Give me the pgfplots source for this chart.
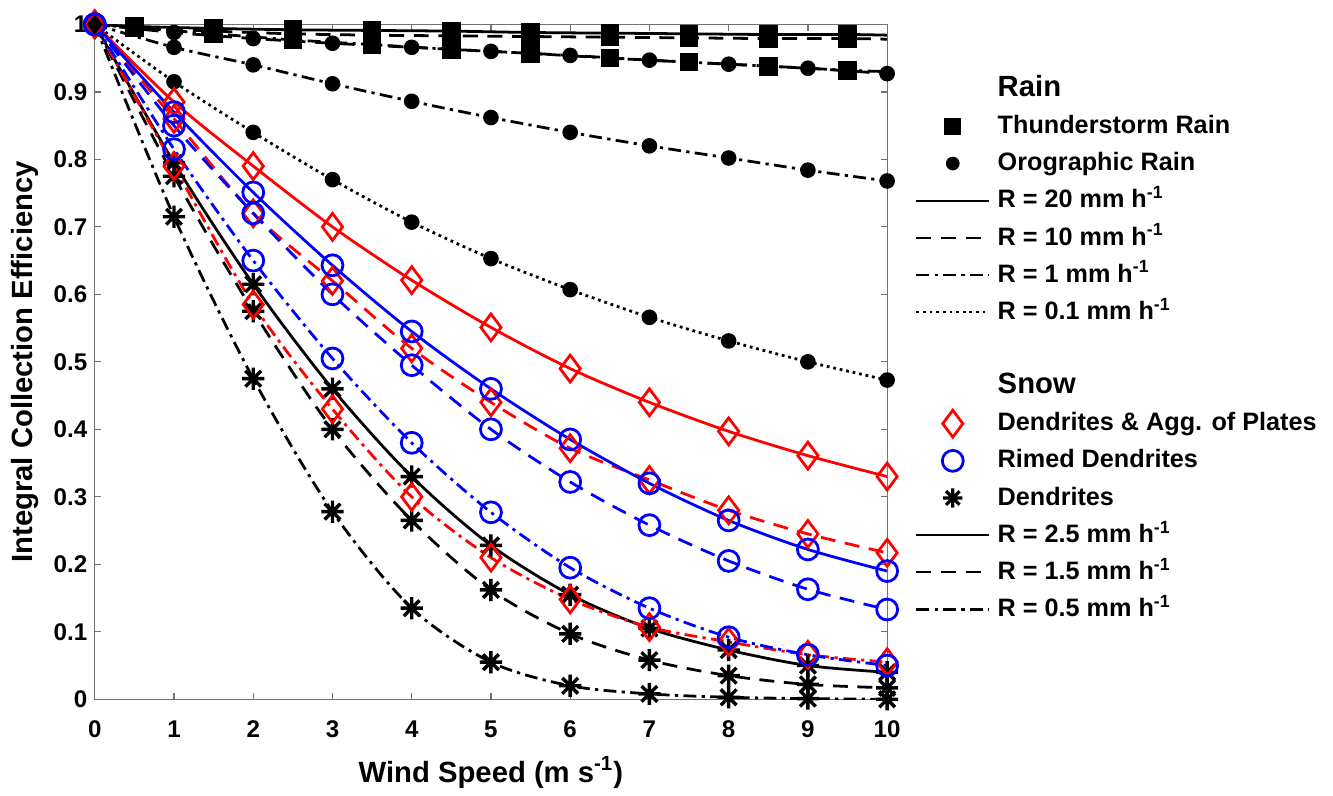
\documentclass[border=0pt]{standalone}
\usepackage{fontspec}
\setmainfont{Liberation Sans}
\usepackage{pgfplots}
\pgfplotsset{compat=1.18}

% 8-armed star like MATLAB's '*'
\pgfdeclareplotmark{star8}{%
  \pgfpathmoveto{\pgfqpoint{-\pgfplotmarksize}{0pt}}\pgfpathlineto{\pgfqpoint{\pgfplotmarksize}{0pt}}%
  \pgfpathmoveto{\pgfqpoint{0pt}{-\pgfplotmarksize}}\pgfpathlineto{\pgfqpoint{0pt}{\pgfplotmarksize}}%
  \pgfpathmoveto{\pgfqpoint{-0.707\pgfplotmarksize}{-0.707\pgfplotmarksize}}\pgfpathlineto{\pgfqpoint{0.707\pgfplotmarksize}{0.707\pgfplotmarksize}}%
  \pgfpathmoveto{\pgfqpoint{-0.707\pgfplotmarksize}{0.707\pgfplotmarksize}}\pgfpathlineto{\pgfqpoint{0.707\pgfplotmarksize}{-0.707\pgfplotmarksize}}%
  \pgfusepathqstroke}

\pgfplotsset{
  lsolid/.style={solid},
  ldash/.style={dash pattern=on 7pt off 4.5pt},
  ldashdot/.style={dash pattern=on 6pt off 2.5pt on 1.5pt off 2.5pt},
  ldot/.style={dash pattern=on 1.3pt off 1.8pt},
  crv/.style={line width=1.3pt, smooth, tension=0.5, forget plot},
  tsq/.style={black, mark=square*, mark size=3.7pt, mark options={solid}, mark indices={2,3,4,5,6,7,8,9,10,11}},
  oci/.style={black, mark=*, mark size=3pt, mark options={solid}},
  rdi/.style={red, mark=diamond, mark size=6.3pt, mark options={solid, line width=1.3pt}},
  bci/.style={blue, mark=o, mark size=4.9pt, mark options={solid, line width=1.3pt}},
  kst/.style={black, mark=star8, mark size=5.2pt, mark options={solid, line width=1.6pt}},
  mkimg/.style={legend image code/.code={\draw[##1] plot coordinates {(17pt,0pt)};}},
  lnimg/.style={legend image code/.code={\draw[##1] (0pt,0pt) -- (34pt,0pt);}},
}

\begin{document}
\begin{tikzpicture}
\begin{axis}[
  scale only axis,
  width=371pt, height=316pt,
  xmin=0, xmax=10, ymin=0, ymax=1,
  xtick={0,1,2,3,4,5,6,7,8,9,10},
  ytick={0,0.1,0.2,0.3,0.4,0.5,0.6,0.7,0.8,0.9,1},
  yticklabels={0,0.1,0.2,0.3,0.4,0.5,0.6,0.7,0.8,0.9,1},
  tick align=inside,
  major tick length=3pt,
  axis line style={draw=black!55, line width=0.6pt},
  tick style={draw=black!55, line width=0.6pt},
  /pgf/number format/assume math mode=true,
  tick label style={font=\fontsize{11.3}{13}\selectfont\bfseries},
  xticklabel style={yshift=-6.5pt},
  label style={font=\fontsize{13.7}{16}\selectfont\bfseries},
  xlabel={Wind Speed (m s\textsuperscript{-1})},
  ylabel={Integral Collection Efficiency},
  xlabel style={yshift=-2pt},
  legend cell align=left,
  legend style={draw=none, fill=none, at={(1.035,0.931)}, anchor=north west,
    inner sep=0pt, row sep=0.7pt, column sep=1.5pt,
    font=\fontsize{11.8}{14}\selectfont\bfseries,
    nodes={inner xsep=2pt, inner ysep=2pt, text height=9.7pt, text depth=3pt}},
]
% ---- Rain: thunderstorm (squares at half-integers)
\addplot[crv, tsq, lsolid] coordinates {
  (0,1.000) (0.5,0.997) (1.5,0.994) (2.5,0.992) (3.5,0.991) (4.5,0.990)
  (5.5,0.988) (6.5,0.987) (7.5,0.986) (8.5,0.985) (9.5,0.985) (10,0.984)};
\addplot[crv, tsq, ldash] coordinates {
  (0,1.000) (0.5,0.995) (1.5,0.990) (2.5,0.986) (3.5,0.984) (4.5,0.983)
  (5.5,0.982) (6.5,0.981) (7.5,0.980) (8.5,0.979) (9.5,0.979) (10,0.978)};
\addplot[crv, tsq, ldashdot] coordinates {
  (0,1.000) (0.5,0.995) (1.5,0.986) (2.5,0.977) (3.5,0.970) (4.5,0.963)
  (5.5,0.957) (6.5,0.950) (7.5,0.944) (8.5,0.938) (9.5,0.932) (10,0.930)};
% ---- Rain: orographic (circles)
\addplot[crv, oci, ldash] coordinates {
  (0,1.000) (1,0.988) (2,0.979) (3,0.972) (4,0.966) (5,0.960)
  (6,0.954) (7,0.947) (8,0.941) (9,0.935) (10,0.927)};
\addplot[crv, oci, ldashdot] coordinates {
  (0,1.000) (1,0.966) (2,0.940) (3,0.912) (4,0.886) (5,0.862)
  (6,0.840) (7,0.820) (8,0.802) (9,0.784) (10,0.768)};
\addplot[crv, oci, ldot] coordinates {
  (0,1.000) (1,0.915) (2,0.840) (3,0.770) (4,0.707) (5,0.653)
  (6,0.607) (7,0.566) (8,0.531) (9,0.500) (10,0.473)};
% ---- Snow: dendrites (black stars)
\addplot[crv, kst, lsolid] coordinates {
  (0,1.000) (1,0.795) (2,0.615) (3,0.460) (4,0.330) (5,0.228)
  (6,0.155) (7,0.105) (8,0.073) (9,0.050) (10,0.040)};
\addplot[crv, kst, ldash] coordinates {
  (0,1.000) (1,0.775) (2,0.575) (3,0.400) (4,0.265) (5,0.162)
  (6,0.097) (7,0.058) (8,0.035) (9,0.022) (10,0.017)};
\addplot[crv, kst, ldashdot] coordinates {
  (0,1.000) (1,0.715) (2,0.475) (3,0.278) (4,0.135) (5,0.055)
  (6,0.020) (7,0.008) (8,0.003) (9,0.001) (10,0.000)};
% ---- Snow: dendrites & agg. of plates (red diamonds)
\addplot[crv, rdi, lsolid] coordinates {
  (0,1.000) (1,0.885) (2,0.790) (3,0.700) (4,0.621) (5,0.551)
  (6,0.490) (7,0.440) (8,0.397) (9,0.361) (10,0.330)};
\addplot[crv, rdi, ldash] coordinates {
  (0,1.000) (1,0.860) (2,0.720) (3,0.620) (4,0.520) (5,0.440)
  (6,0.372) (7,0.325) (8,0.280) (9,0.245) (10,0.217)};
\addplot[crv, rdi, ldashdot] coordinates {
  (0,1.000) (1,0.790) (2,0.585) (3,0.430) (4,0.300) (5,0.210)
  (6,0.148) (7,0.107) (8,0.085) (9,0.066) (10,0.055)};
% ---- Snow: rimed dendrites (blue circles)
\addplot[crv, bci, lsolid] coordinates {
  (0,1.000) (1,0.870) (2,0.751) (3,0.643) (4,0.545) (5,0.460)
  (6,0.385) (7,0.320) (8,0.265) (9,0.222) (10,0.190)};
\addplot[crv, bci, ldash] coordinates {
  (0,1.000) (1,0.850) (2,0.720) (3,0.600) (4,0.495) (5,0.400)
  (6,0.322) (7,0.258) (8,0.205) (9,0.163) (10,0.133)};
\addplot[crv, bci, ldashdot] coordinates {
  (0,1.000) (1,0.815) (2,0.650) (3,0.505) (4,0.380) (5,0.277)
  (6,0.195) (7,0.135) (8,0.092) (9,0.066) (10,0.050)};

% ---- legend
\addlegendimage{empty legend}\addlegendentry{\fontsize{13.7}{16}\selectfont Rain}
\addlegendimage{mkimg, black, mark=square*, mark size=3.7pt}\addlegendentry{Thunderstorm Rain}
\addlegendimage{mkimg, black, mark=*, mark size=3pt}\addlegendentry{Orographic Rain}
\addlegendimage{lnimg, black, line width=1.1pt, lsolid}\addlegendentry{R = 20 mm h\textsuperscript{-1}}
\addlegendimage{lnimg, black, line width=1.1pt, ldash}\addlegendentry{R = 10 mm h\textsuperscript{-1}}
\addlegendimage{lnimg, black, line width=1.1pt, ldashdot}\addlegendentry{R = 1 mm h\textsuperscript{-1}}
\addlegendimage{lnimg, black, line width=1.1pt, ldot}\addlegendentry{R = 0.1 mm h\textsuperscript{-1}}
\addlegendimage{empty legend}\addlegendentry{}
\addlegendimage{empty legend}\addlegendentry{\fontsize{13.7}{16}\selectfont Snow}
\addlegendimage{mkimg, red, mark=diamond, mark size=6.3pt, line width=1.3pt}\addlegendentry{Dendrites \& Agg. of Plates}
\addlegendimage{mkimg, blue, mark=o, mark size=4.9pt, line width=1.3pt}\addlegendentry{Rimed Dendrites}
\addlegendimage{mkimg, black, mark=star8, mark size=4.5pt, line width=1.5pt}\addlegendentry{Dendrites}
\addlegendimage{lnimg, black, line width=1.1pt, lsolid}\addlegendentry{R = 2.5 mm h\textsuperscript{-1}}
\addlegendimage{lnimg, black, line width=1.1pt, ldash}\addlegendentry{R = 1.5 mm h\textsuperscript{-1}}
\addlegendimage{lnimg, black, line width=1.1pt, ldashdot}\addlegendentry{R = 0.5 mm h\textsuperscript{-1}}
\end{axis}
% white margin round the picture, as in the reference
\path ([xshift=-2.1pt,yshift=4.2pt]current bounding box.north west)
  rectangle ([xshift=5.7pt]current bounding box.south east);
\end{tikzpicture}
\end{document}
